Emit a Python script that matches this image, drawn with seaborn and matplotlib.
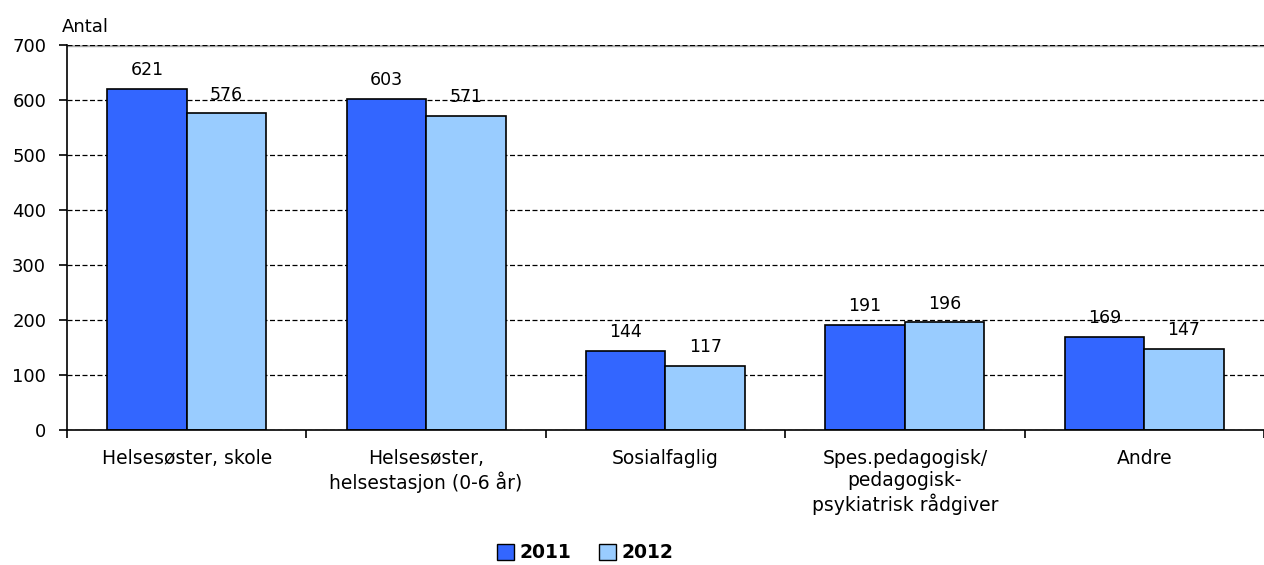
import pandas as pd
import matplotlib.pyplot as plt
import seaborn as sns
from matplotlib.patches import Patch

# Data
categories = ["Helsesøster, skole", "Helsesøster,\nhelsestasjon (0-6 år)", "Sosialfaglig",
              "Spes.pedagogisk/\npedagogisk-\npsykiatrisk rådgiver", "Andre"]
years = ["2011", "2012"]
values_2011 = [621, 603, 144, 191, 169]
values_2012 = [576, 571, 117, 196, 147]
colors = ["#3366FF", "#99CCFF"]

df = pd.DataFrame({
    "kategori": categories * 2,
    "aar": [years[0]] * 5 + [years[1]] * 5,
    "antal": values_2011 + values_2012,
})

sns.set_style("white")
plt.rcParams["font.family"] = ["DejaVu Sans"]
plt.rcParams["text.color"] = "black"
plt.rcParams["xtick.color"] = "black"
plt.rcParams["ytick.color"] = "black"

fig = plt.figure(figsize=(12.64, 5.65), dpi=100)
ax = fig.add_axes([0.053, 0.239, 0.947, 0.681])

sns.barplot(data=df, x="kategori", y="antal", hue="aar", palette=colors,
            width=0.664, edgecolor="black", linewidth=1.2, saturation=1,
            legend=False, ax=ax)

for c in ax.containers:
    ax.bar_label(c, fmt="%d", padding=7, fontsize=12.5, color="black")

ax.set_ylim(0, 700)
ax.set_xlim(-0.5, 4.5)
ax.set_yticks(range(0, 701, 100))
ax.tick_params(axis="y", labelsize=13, length=6, width=1.2, direction="out", left=True, pad=9)
ax.tick_params(axis="x", which="major", labelsize=13.5, length=0, pad=14)
ax.set_xticks([i - 0.5 for i in range(6)], minor=True)
ax.tick_params(axis="x", which="minor", length=6, width=1.2, direction="out", bottom=True)
ax.set_xlabel("")
ax.set_ylabel("")

ax.set_axisbelow(True)
ax.yaxis.grid(True, linestyle=(0, (4, 2)), color="black", linewidth=0.9)
ax.xaxis.grid(False)

for s in ["top", "right"]:
    ax.spines[s].set_visible(False)
ax.spines["left"].set_color("black")
ax.spines["left"].set_linewidth(1.2)
ax.spines["bottom"].set_color("black")
ax.spines["bottom"].set_linewidth(1.2)
ax.axhline(700, color="#b0b0b0", linewidth=2.5, zorder=0)

ax.text(-0.004, 1.025, "Antal", transform=ax.transAxes, fontsize=13, ha="left", va="bottom")

handles = [Patch(facecolor=colors[i], edgecolor="black", label=years[i]) for i in range(2)]
fig.legend(handles=handles, loc="lower center", bbox_to_anchor=(0.463, -0.025), ncol=2, frameon=False,
           prop={"weight": "bold", "size": 13.5}, handlelength=0.9, handleheight=0.9,
           handletextpad=0.3, columnspacing=1.5)

fig.savefig("out.png", dpi=100)
